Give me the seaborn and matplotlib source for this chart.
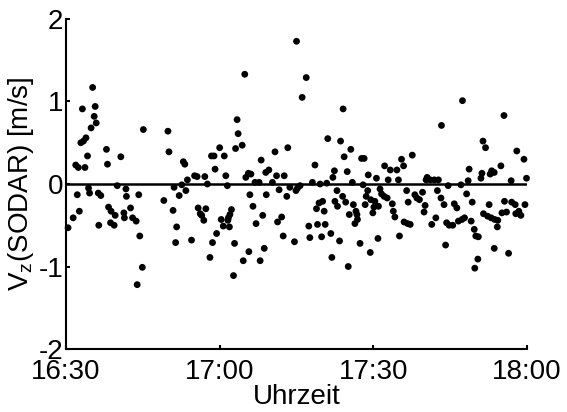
import matplotlib
matplotlib.use("Agg")
import matplotlib.pyplot as plt
import seaborn as sns
import pandas as pd

# Minutes after 16:30 and vertical wind speed from the SODAR
minutes = [
    0.4, 1.4, 1.9, 2.2, 2.4, 2.6, 2.9, 3.2, 3.4, 3.7, 3.9, 4.2, 4.4, 4.6, 4.9,
    5.2, 5.5, 5.7, 5.9, 6.3, 6.4, 6.8, 7.9, 8.1, 8.3, 8.7, 8.8, 9.4, 9.6, 10.0,
    10.7, 11.3, 11.4, 11.7, 11.8, 12.6, 13.0, 13.7, 13.9, 14.2, 14.4, 14.9, 15.1,
    19.1, 19.9, 20.1, 20.9, 21.1, 21.4, 21.6, 22.1, 22.6, 22.9, 23.2, 23.4, 23.7,
    24.5, 25.1, 25.6, 25.8, 26.2, 26.5, 26.9, 27.1, 27.3, 27.6, 28.1, 28.4, 28.9,
    29.1, 29.4, 28.6, 30.0, 30.3, 30.9, 31.2, 30.7, 31.5, 31.6, 31.7, 31.9, 32.0,
    32.3, 32.7, 32.9, 33.1, 33.4, 33.6, 34.4, 34.6, 34.9, 35.1, 35.6, 36.1, 35.7,
    35.9, 36.5, 36.9, 37.1, 37.7, 37.9, 38.1, 38.4, 38.7, 39.0, 39.1, 39.6, 40.3,
    40.8, 41.1, 41.3, 41.6, 42.1, 42.4, 42.6, 43.1, 43.3, 43.7, 44.6, 44.9, 45.2,
    45.0, 45.7, 46.1, 46.9, 47.4, 47.6, 48.1, 48.6, 48.9, 49.1, 49.4, 49.6, 49.9,
    50.1, 50.4, 50.6, 50.9, 51.1, 51.7, 51.9, 52.1, 52.4, 52.5, 52.9, 53.0, 53.4,
    53.6, 54.0, 54.1, 54.3, 54.6, 54.9, 55.1, 55.3, 55.6, 55.9, 56.1, 56.4, 56.6,
    56.8, 56.9, 57.4, 57.7, 58.2, 58.0, 58.4, 58.6, 58.9, 59.0, 59.4, 59.5, 59.9,
    60.1, 60.3, 60.6, 60.9, 61.0, 61.3, 61.6, 62.1, 62.2, 62.7, 62.9, 63.3, 63.7,
    63.9, 64.2, 64.6, 64.9, 65.1, 65.5, 65.9, 66.0, 66.5, 66.7, 66.8, 67.2, 67.6,
    68.1, 68.5, 69.0, 69.6, 69.9, 70.1, 70.3, 70.5, 71.1, 71.4, 71.9, 72.2, 72.5,
    72.7, 73.2, 73.3, 73.8, 74.1, 74.3, 74.6, 74.8, 75.5, 75.8, 76.3, 76.6, 77.1,
    77.3, 77.4, 77.8, 78.2, 78.5, 78.7, 79.1, 79.3, 79.7, 79.8, 80.0, 80.4, 80.5,
    81.0, 81.2, 81.4, 81.5, 81.9, 82.3, 82.6, 82.8, 83.0, 83.1, 83.6, 83.7, 83.6,
    84.2, 84.3, 84.9, 85.1, 85.5, 85.6, 86.0, 86.4, 86.9, 87.0, 87.7, 87.8, 88.0,
    88.4, 88.8, 89.4, 89.6, 89.9,
]
vz = [
    -0.53, -0.41, 0.23, -0.13, 0.20, -0.33, 0.50, 0.91, 0.52, 0.20, 0.56, 0.34,
    -0.05, -0.11, 0.68, 1.17, 0.82, 0.94, 0.74, -0.11, -0.50, -0.14, 0.42, 0.24,
    -0.28, -0.47, -0.33, -0.50, -0.38, -0.02, 0.33, -0.35, -0.41, -0.06, -0.15,
    -0.29, -0.41, -0.45, -1.22, -0.13, -0.63, -1.01, 0.66,
    -0.20, 0.64, 0.39, -0.32, -0.04, -0.71, -0.52, -0.14, -0.01, 0.27, 0.24,
    -0.08, 0.05, -0.68, 0.10, 0.09, -0.29, -0.36, -0.38, -0.44, 0.09, -0.30,
    0.00, -0.89, 0.34, 0.34, 0.18, -0.60, -0.71, 0.44, -0.43, 0.34, 0.10, -0.51,
    -0.02, -0.44, -0.41, -0.52, -0.37, -0.31, -1.11, -0.72, 0.43, 0.78, 0.61,
    0.47, -0.93, 1.33, 0.08, 0.13, 0.12, -0.82, -0.13, -0.27, 0.02, -0.48, 0.02,
    -0.93, 0.29, -0.38, -0.78, 0.14, -0.13, 0.17, 0.02, 0.39, 0.10, -0.46, -0.07,
    -0.40, -0.63, 0.10, -0.15, 0.44, -0.04, -0.70, -0.08, -0.05, 1.73, -0.02,
    1.05, 1.29, -0.51, -0.65, 0.02, 0.23, -0.30, -0.49, -0.23, 0.00, -0.64,
    -0.21, -0.33, -0.49, 0.01, 0.55, -0.60, -0.89, 0.08, 0.16, -0.21, -0.08,
    -0.27, -0.69, 0.52, -0.15, 0.91, 0.33, -0.22, 0.15, -1.00, -0.37, 0.42,
    0.02, -0.25, -0.48, -0.33, -0.37, -0.43, -0.72, 0.31, 0.31, -0.01, -0.25,
    -0.15, -0.08, 0.11, -0.83, -0.19, -0.35, -0.28, -0.21, 0.07, -0.66, -0.27,
    -0.06, -0.12, -0.15, 0.22, -0.17, 0.05, 0.17, -0.24, -0.33, -0.40, 0.17,
    0.05, -0.63, 0.30, 0.22, -0.46, -0.08, -0.48, -0.22, -0.49, 0.35, -0.13,
    -0.17, -0.19, -0.10, -0.34, -0.26, 0.05, 0.08, 0.05, -0.49, 0.05, -0.41,
    -0.08, 0.05, -0.17, 0.71, -0.25, -0.74, -0.47, -0.02, -0.50, -0.50, -0.24,
    -0.29, -0.45, -0.01, -0.43, 1.01, -0.41, -0.12, 0.04, 0.18, -0.45, -0.22,
    -0.55, -1.02, -0.63, -0.91, -0.64, 0.07, 0.13, 0.52, -0.36, 0.44, -0.39,
    -0.25, 0.12, -0.41, 0.16, 0.14, -0.43, -0.78, -0.52, -0.44, 0.22, -0.35,
    0.83, -0.21, -0.34, -0.84, 0.04, -0.22, -0.25, -0.36, 0.40, -0.33, -0.38,
    0.30, -0.25, 0.07,
]

xticks = [0, 30, 60, 90]
xticklabels = ["16:30", "17:00", "17:30", "18:00"]
yticks = [-2, -1, 0, 1, 2]

df = pd.DataFrame({"Minuten": minutes, "Vz": vz})

sns.set_theme(style="ticks")
plt.rcParams["font.family"] = ["Liberation Sans", "DejaVu Sans"]
plt.rcParams["axes.linewidth"] = 1.5

fig = plt.figure(figsize=(5.67, 4.12), dpi=100)
ax = fig.add_axes([0.1164, 0.1529, 0.8131, 0.8010])

sns.scatterplot(data=df, x="Minuten", y="Vz", ax=ax, color="black",
                s=24, linewidth=0, edgecolor="none", clip_on=False, zorder=3)
ax.axhline(0, color="black", lw=1.8, zorder=2)

ax.set_xlim(0, 90)
ax.set_ylim(-2, 2)
ax.set_xticks(xticks)
ax.set_xticklabels(xticklabels)
ax.set_yticks(yticks)
ax.set_yticklabels([str(v) for v in yticks])

for side in ("top", "right"):
    ax.spines[side].set_visible(False)
for side in ("left", "bottom"):
    ax.spines[side].set_color("black")
    ax.spines[side].set_linewidth(1.5)

ax.tick_params(axis="both", direction="in", length=3, width=1.5,
               colors="black", labelsize=20)
ax.tick_params(axis="x", pad=7)
ax.tick_params(axis="y", pad=2)

ax.set_xlabel("Uhrzeit", fontsize=20, color="black")
ax.set_ylabel(r"V$_\mathregular{z}$(SODAR) [m/s]", fontsize=20, color="black")
ax.xaxis.set_label_coords(0.5, -0.105)
ax.yaxis.set_label_coords(-0.065, 0.5)

fig.savefig("out.png", dpi=100, facecolor="white")
